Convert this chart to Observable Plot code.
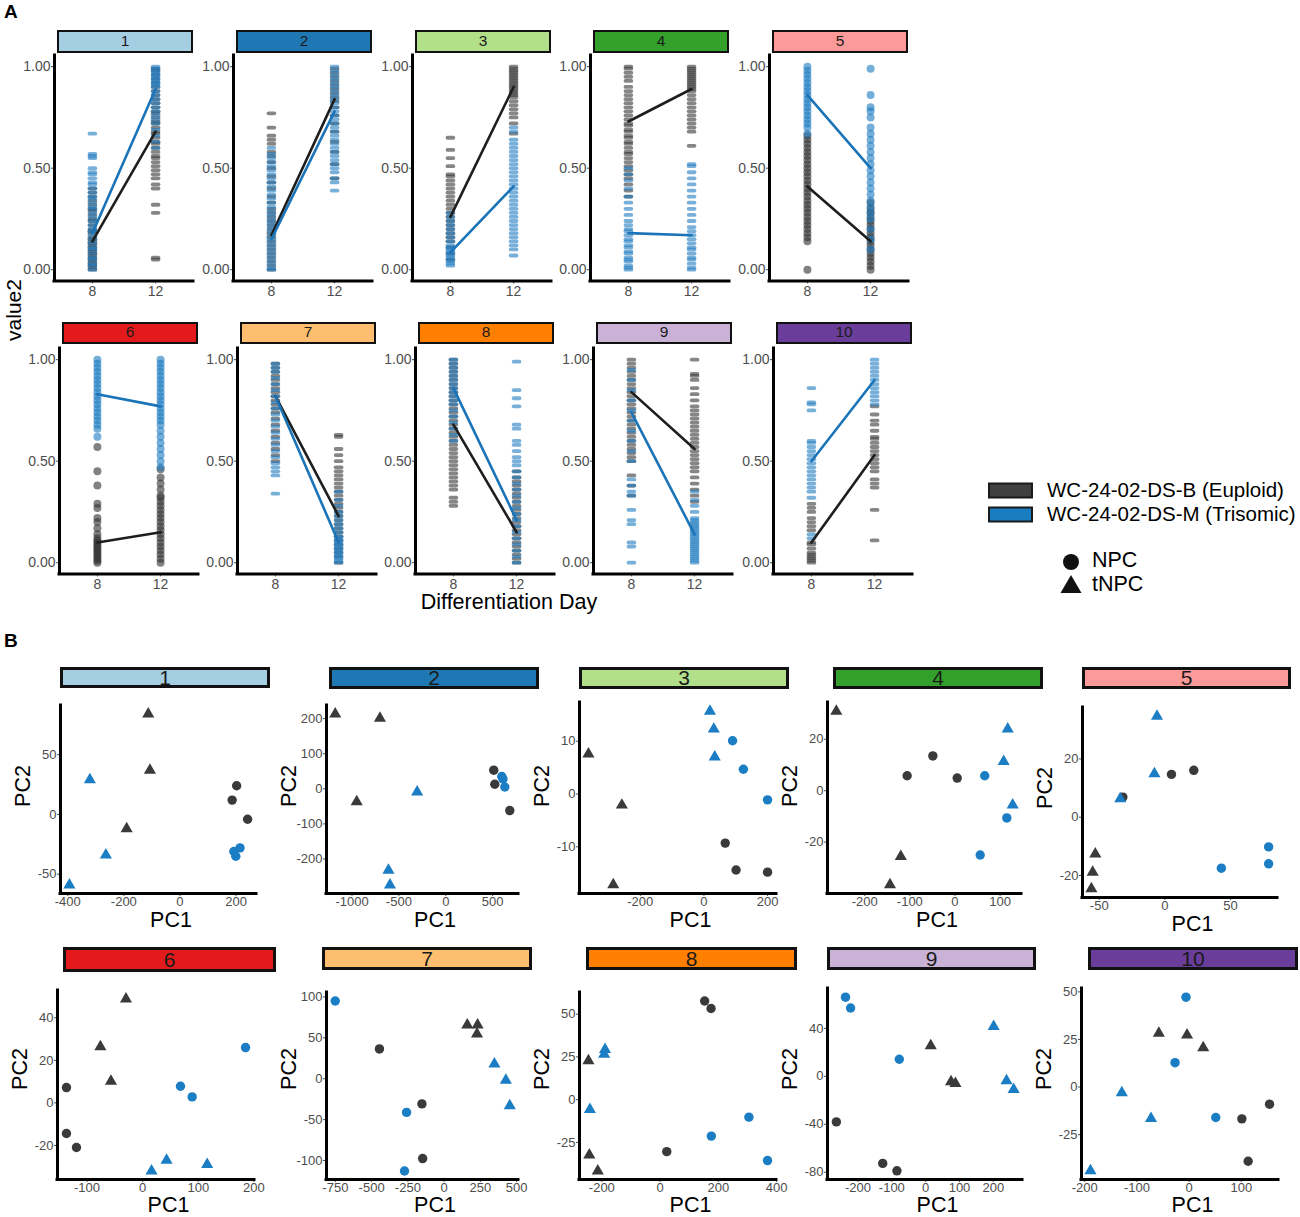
<!DOCTYPE html>
<html><head><meta charset="utf-8">
<script src="https://cdn.jsdelivr.net/npm/d3@7"></script>
<script src="https://cdn.jsdelivr.net/npm/@observablehq/plot@0.6"></script>
<style>
body{margin:0;background:#fff;font-family:"Liberation Sans",Arial,sans-serif;}
#root{position:relative;width:1300px;height:1217px;overflow:hidden;background:#fff;}
.strip{position:absolute;box-sizing:border-box;border-style:solid;border-color:#111;text-align:center;color:#1a1a1a;overflow:hidden;}
.lbl{position:absolute;white-space:nowrap;color:#000;line-height:1;}
</style></head><body><div id="root"></div>
<script>
// ================= DATA =================
const facetIds = [1,2,3,4,5,6,7,8,9,10];
const facetColors = ["#A6CEE3","#1F78B4","#B2DF8A","#33A02C","#FB9A99","#E31A1C","#FDBF6F","#FF7F00","#CAB2D6","#6A3D9A"];
const days = [8, 12];
const genotypes = ["WC-24-02-DS-B (Euploid)", "WC-24-02-DS-M (Trisomic)"];
const cellTypes = ["NPC", "tNPC"];

// Panel A: mean lines per facet
const meanEuploidD8   = [0.14,0.17,0.26,0.73,0.41,0.10,0.82,0.68,0.84,0.10];
const meanEuploidD12  = [0.68,0.84,0.90,0.89,0.14,0.15,0.23,0.15,0.56,0.53];
const meanTrisomicD8  = [0.18,0.15,0.085,0.18,0.86,0.83,0.82,0.86,0.74,0.50];
const meanTrisomicD12 = [0.89,0.78,0.41,0.17,0.50,0.77,0.10,0.21,0.14,0.90];

// Panel A: per-gene values (value2), facet / genotype / day
const c1EuD8  = [0.00,0.01,0.02,0.03,0.04,0.05,0.06,0.07,0.08,0.09,0.10,0.11,0.12,0.13,0.14,0.15,0.16,0.18,0.19,0.20,0.22,0.24,0.25,0.27,0.29,0.30,0.32,0.34,0.36,0.38,0.40];
const c1TrD8  = [0.00,0.02,0.03,0.05,0.06,0.08,0.10,0.11,0.13,0.15,0.17,0.19,0.20,0.22,0.24,0.26,0.28,0.30,0.31,0.33,0.35,0.36,0.38,0.40,0.42,0.43,0.45,0.47,0.48,0.50,0.55,0.56,0.57,0.67];
const c1EuD12 = [0.05,0.06,0.28,0.32,0.40,0.42,0.45,0.47,0.49,0.51,0.53,0.55,0.56,0.58,0.60,0.62,0.63,0.65,0.67,0.68,0.70,0.72,0.73,0.75,0.77,0.78,0.80,0.82,0.84,0.86,0.88,0.90,0.92,0.94,0.96,0.98,0.99];
const c1TrD12 = [0.60,0.63,0.66,0.69,0.72,0.74,0.76,0.78,0.80,0.82,0.84,0.86,0.88,0.90,0.91,0.92,0.93,0.94,0.95,0.96,0.97,0.98,0.99,1.00];

const c2EuD8  = [0.00,0.02,0.04,0.06,0.08,0.10,0.12,0.14,0.16,0.18,0.20,0.22,0.24,0.26,0.28,0.30,0.33,0.36,0.40,0.43,0.46,0.50,0.53,0.56,0.58,0.62,0.64,0.66,0.70,0.77];
const c2TrD8  = [0.00,0.01,0.03,0.05,0.07,0.09,0.11,0.13,0.15,0.17,0.19,0.21,0.23,0.25,0.27,0.29,0.31,0.33,0.35,0.37,0.39,0.41,0.43,0.45,0.47,0.49,0.51,0.53,0.55,0.57,0.60];
const c2EuD12 = [0.45,0.52,0.58,0.63,0.68,0.72,0.76,0.80,0.83,0.85,0.87,0.89,0.91,0.93,0.95,0.97,0.99];
const c2TrD12 = [0.39,0.43,0.45,0.48,0.50,0.52,0.54,0.56,0.58,0.60,0.62,0.64,0.66,0.68,0.70,0.72,0.74,0.76,0.78,0.80,0.82,0.84,0.86,0.88,0.90,0.92,0.94,0.96,0.98,1.00];

const c3EuD8  = [0.05,0.08,0.11,0.14,0.16,0.18,0.20,0.22,0.24,0.26,0.28,0.30,0.32,0.34,0.36,0.38,0.40,0.42,0.44,0.46,0.47,0.51,0.55,0.59,0.65];
const c3TrD8  = [0.02,0.03,0.04,0.05,0.06,0.07,0.08,0.09,0.10,0.11,0.12,0.14,0.16,0.18,0.20,0.22,0.24,0.26,0.28];
const c3EuD12 = [0.67,0.72,0.75,0.77,0.79,0.81,0.83,0.85,0.86,0.87,0.88,0.89,0.90,0.91,0.92,0.93,0.94,0.95,0.96,0.97,0.98,0.99,1.00];
const c3TrD12 = [0.07,0.10,0.12,0.14,0.16,0.18,0.20,0.22,0.24,0.26,0.28,0.30,0.32,0.34,0.36,0.38,0.40,0.42,0.44,0.46,0.48,0.50,0.52,0.54,0.56,0.58,0.60,0.62,0.64,0.68,0.70];

const c4EuD8  = [0.36,0.39,0.42,0.45,0.47,0.49,0.51,0.53,0.55,0.57,0.58,0.60,0.62,0.63,0.65,0.66,0.68,0.69,0.71,0.72,0.74,0.76,0.78,0.80,0.82,0.84,0.86,0.88,0.90,0.93,0.95,0.97,0.99,1.00];
const c4TrD8  = [0.00,0.01,0.02,0.04,0.05,0.06,0.08,0.09,0.11,0.12,0.14,0.15,0.17,0.19,0.20,0.22,0.24,0.27,0.30,0.33,0.36,0.40,0.44,0.47,0.50];
const c4EuD12 = [0.61,0.68,0.70,0.72,0.74,0.76,0.78,0.80,0.82,0.84,0.86,0.88,0.89,0.90,0.91,0.92,0.93,0.94,0.95,0.96,0.97,0.98,0.99,1.00];
const c4TrD12 = [0.00,0.01,0.03,0.05,0.06,0.08,0.10,0.11,0.13,0.15,0.17,0.19,0.21,0.24,0.27,0.30,0.33,0.36,0.39,0.42,0.45,0.48,0.51,0.52];

const c5EuD8  = [0.00,0.14,0.16,0.18,0.20,0.22,0.24,0.26,0.28,0.30,0.32,0.34,0.36,0.38,0.40,0.42,0.44,0.46,0.48,0.50,0.52,0.54,0.56,0.58,0.60,0.62,0.64,0.66];
const c5TrD8  = [0.67,0.70,0.72,0.74,0.76,0.78,0.80,0.82,0.84,0.86,0.88,0.90,0.92,0.94,0.96,0.98,1.00];
const c5EuD12 = [0.00,0.02,0.04,0.06,0.08,0.10,0.12,0.14,0.16,0.18,0.20,0.22,0.24,0.26,0.28,0.30,0.33];
const c5TrD12 = [0.10,0.15,0.20,0.25,0.28,0.31,0.34,0.37,0.40,0.43,0.46,0.49,0.52,0.55,0.58,0.61,0.64,0.67,0.70,0.75,0.78,0.80,0.86,0.99];

const c6EuD8  = [0.00,0.01,0.02,0.03,0.04,0.05,0.06,0.07,0.08,0.09,0.10,0.11,0.12,0.14,0.17,0.20,0.22,0.27,0.29,0.38,0.45,0.57];
const c6TrD8  = [0.62,0.66,0.68,0.70,0.72,0.74,0.76,0.78,0.80,0.82,0.84,0.86,0.88,0.90,0.92,0.94,0.96,0.98,1.00];
const c6EuD12 = [0.00,0.02,0.04,0.06,0.08,0.10,0.12,0.14,0.16,0.18,0.20,0.22,0.24,0.26,0.28,0.30,0.32,0.33,0.36,0.39,0.42,0.46];
const c6TrD12 = [0.47,0.50,0.53,0.56,0.59,0.62,0.65,0.68,0.70,0.72,0.74,0.76,0.78,0.80,0.82,0.84,0.86,0.88,0.90,0.92,0.94,0.96,0.98,1.00];

const c7EuD8  = [0.50,0.53,0.56,0.59,0.62,0.65,0.68,0.71,0.74,0.76,0.78,0.80,0.82,0.84,0.86,0.88,0.90,0.92,0.94,0.96,0.98];
const c7TrD8  = [0.34,0.43,0.45,0.47,0.49,0.52,0.55,0.58,0.61,0.64,0.67,0.70,0.73,0.76,0.79,0.82,0.85,0.88,0.91,0.94,0.96,0.98];
const c7EuD12 = [0.00,0.03,0.05,0.07,0.09,0.11,0.13,0.15,0.17,0.19,0.21,0.23,0.25,0.27,0.29,0.31,0.33,0.35,0.37,0.39,0.41,0.43,0.45,0.47,0.50,0.53,0.56,0.62,0.63];
const c7TrD12 = [0.00,0.01,0.02,0.03,0.04,0.05,0.06,0.07,0.08,0.09,0.10,0.11,0.12,0.13,0.15,0.17,0.19,0.21,0.23,0.25,0.28,0.31,0.35];

const c8EuD8  = [0.28,0.30,0.32,0.36,0.38,0.40,0.42,0.44,0.46,0.48,0.50,0.52,0.54,0.56,0.58,0.60,0.62,0.64,0.66,0.68,0.70,0.72,0.74,0.76,0.78,0.80,0.82,0.84,0.86,0.88,0.90,0.92,0.94,0.96,0.98,1.00];
const c8TrD8  = [0.60,0.63,0.66,0.69,0.72,0.75,0.78,0.80,0.82,0.84,0.86,0.88,0.90,0.92,0.94,0.96,0.98,1.00];
const c8EuD12 = [0.00,0.02,0.04,0.06,0.08,0.10,0.12,0.14,0.16,0.18,0.20,0.22,0.24,0.26,0.28,0.30,0.32,0.34,0.36,0.38,0.40,0.42,0.45];
const c8TrD12 = [0.00,0.03,0.06,0.09,0.12,0.15,0.18,0.21,0.24,0.27,0.30,0.33,0.36,0.39,0.42,0.45,0.48,0.50,0.52,0.55,0.58,0.60,0.66,0.68,0.77,0.81,0.85,0.99];

const c9EuD8  = [0.33,0.38,0.43,0.50,0.52,0.54,0.56,0.58,0.60,0.62,0.64,0.66,0.68,0.70,0.72,0.74,0.76,0.78,0.80,0.82,0.84,0.86,0.88,0.90,0.92,0.94,0.96,0.98,1.00];
const c9TrD8  = [0.00,0.08,0.10,0.19,0.21,0.26,0.33,0.35,0.38,0.41,0.50,0.55,0.60,0.65,0.70,0.75,0.80,0.85,0.90,0.95];
const c9EuD12 = [0.30,0.33,0.36,0.39,0.42,0.45,0.47,0.49,0.51,0.53,0.55,0.57,0.59,0.61,0.63,0.65,0.67,0.69,0.71,0.73,0.75,0.77,0.80,0.83,0.86,0.90,0.92,0.93,1.00];
const c9TrD12 = [0.00,0.01,0.02,0.03,0.04,0.05,0.06,0.07,0.08,0.09,0.10,0.11,0.12,0.13,0.14,0.15,0.16,0.17,0.18,0.19,0.20,0.21,0.22,0.25,0.28,0.31,0.35];

const c10EuD8  = [0.00,0.01,0.02,0.03,0.04,0.05,0.07,0.09,0.10,0.16,0.18,0.20,0.22,0.25,0.27,0.29];
const c10TrD8  = [0.12,0.14,0.32,0.35,0.37,0.39,0.41,0.43,0.45,0.47,0.49,0.51,0.53,0.55,0.57,0.59,0.60,0.75,0.78,0.79,0.86];
const c10EuD12 = [0.11,0.26,0.37,0.39,0.41,0.45,0.47,0.49,0.51,0.53,0.55,0.57,0.59,0.61,0.62,0.65,0.68,0.70,0.73,0.77];
const c10TrD12 = [0.78,0.80,0.82,0.84,0.86,0.88,0.90,0.92,0.94,0.96,0.98,1.00];

// Panel B: PCA scores [PC1, PC2, line (B = euploid, M = trisomic), cell type]
const pca1 = [[-113,84,"B","tNPC"],[-107,37,"B","tNPC"],[-190,-12,"B","tNPC"],[-321,29,"M","tNPC"],[-264,-34,"M","tNPC"],[-394,-59,"M","tNPC"],[202,24,"B","NPC"],[186,12,"B","NPC"],[241,-4,"B","NPC"],[192,-31,"M","NPC"],[214,-28,"M","NPC"],[199,-35,"M","NPC"]];
const pca2 = [[-1179,213,"B","tNPC"],[-702,201,"B","tNPC"],[-950,-37,"B","tNPC"],[-305,-9,"M","tNPC"],[-611,-232,"M","tNPC"],[-595,-274,"M","tNPC"],[512,53,"B","NPC"],[523,13,"B","NPC"],[683,-62,"B","NPC"],[598,35,"M","NPC"],[630,5,"M","NPC"],[610,28,"M","NPC"]];
const pca3 = [[19,15.7,"M","tNPC"],[31,12.3,"M","tNPC"],[34,7.0,"M","tNPC"],[90,10.1,"M","NPC"],[124,4.7,"M","NPC"],[200,-1.1,"M","NPC"],[-363,7.6,"B","tNPC"],[-258,-2.1,"B","tNPC"],[-285,-17.2,"B","tNPC"],[67,-9.3,"B","NPC"],[101,-14.4,"B","NPC"],[200,-14.8,"B","NPC"]];
const pca4 = [[-263,30.9,"B","tNPC"],[-120,-25.6,"B","tNPC"],[-144,-36.6,"B","tNPC"],[117,24,"M","tNPC"],[108,11.3,"M","tNPC"],[128,-5.6,"M","tNPC"],[-49,13.5,"B","NPC"],[-106,5.8,"B","NPC"],[5,4.9,"B","NPC"],[66,5.8,"M","NPC"],[115,-10.6,"M","NPC"],[56,-25,"M","NPC"]];
const pca5 = [[-6,34.7,"M","tNPC"],[-8,14.9,"M","tNPC"],[-34,6.3,"M","tNPC"],[5,14.7,"B","NPC"],[22,16.1,"B","NPC"],[-32,6.9,"B","NPC"],[79,-10.2,"M","NPC"],[79,-16,"M","NPC"],[43,-17.5,"M","NPC"],[-53,-12.6,"B","tNPC"],[-55,-18.9,"B","tNPC"],[-56,-24.6,"B","tNPC"]];
const pca6 = [[-30,48.8,"B","tNPC"],[-76,26.4,"B","tNPC"],[-57,10.2,"B","tNPC"],[-137,7.2,"B","NPC"],[-137,-14.4,"B","NPC"],[-119,-21,"B","NPC"],[185,26,"M","NPC"],[68,7.8,"M","NPC"],[89,2.8,"M","NPC"],[43,-27,"M","tNPC"],[16,-32,"M","tNPC"],[116,-29,"M","tNPC"]];
const pca7 = [[-751,95,"M","NPC"],[-259,-41.2,"M","NPC"],[-273,-112.8,"M","NPC"],[-446,36.4,"B","NPC"],[-153,-30.8,"B","NPC"],[-148,-97.6,"B","NPC"],[160,65.6,"B","tNPC"],[231,65.6,"B","tNPC"],[227,54.8,"B","tNPC"],[347,18,"M","tNPC"],[426,-2,"M","tNPC"],[453,-33,"M","tNPC"]];
const pca8 = [[153,57.7,"B","NPC"],[175,53.3,"B","NPC"],[23,-30.4,"B","NPC"],[-246,22.7,"B","tNPC"],[-243,-32.3,"B","tNPC"],[-214,-41.7,"B","tNPC"],[-189,29.4,"M","tNPC"],[-192,26.5,"M","tNPC"],[-241,-5.8,"M","tNPC"],[176,-21.3,"M","NPC"],[305,-10.2,"M","NPC"],[369,-35.6,"M","NPC"]];
const pca9 = [[-237,66,"M","NPC"],[-222,57,"M","NPC"],[-78,14.2,"M","NPC"],[15,25.4,"B","tNPC"],[75,-4.5,"B","tNPC"],[88,-5.9,"B","tNPC"],[201,41.6,"M","tNPC"],[239,-3.6,"M","tNPC"],[260,-10.9,"M","tNPC"],[-264,-38,"B","NPC"],[-127,-72.6,"B","NPC"],[-85,-78.8,"B","NPC"]];
const pca10 = [[-6,47.2,"M","NPC"],[-27,12.8,"M","NPC"],[51,-16,"M","NPC"],[-58,28.2,"B","tNPC"],[-4,27.3,"B","tNPC"],[27,20.7,"B","tNPC"],[-129,-3,"M","tNPC"],[-73,-16.5,"M","tNPC"],[-189,-44,"M","tNPC"],[101,-16.7,"B","NPC"],[154,-9,"B","NPC"],[113,-39,"B","NPC"]];

// PCA axis tick labels per facet
const pcaXTicks = [[-400,-200,0,200],[-1000,-500,0,500],[-200,0,200],[-200,-100,0,100],[-50,0,50],[-100,0,100,200],[-750,-500,-250,0,250,500],[-200,0,200,400],[-200,-100,0,100,200],[-200,-100,0,100]];
const pcaYTicks = [[-50,0,50],[-200,-100,0,100,200],[-10,0,10],[-20,0,20],[-20,0,20],[-20,0,20,40],[-100,-50,0,50,100],[-25,0,25,50],[-80,-40,0,40],[-25,0,25,50]];

// ================= TABLES BUILT FROM DATA =================
const stripSets = [
  [c1EuD8,c1EuD12,c1TrD8,c1TrD12],[c2EuD8,c2EuD12,c2TrD8,c2TrD12],[c3EuD8,c3EuD12,c3TrD8,c3TrD12],
  [c4EuD8,c4EuD12,c4TrD8,c4TrD12],[c5EuD8,c5EuD12,c5TrD8,c5TrD12],[c6EuD8,c6EuD12,c6TrD8,c6TrD12],
  [c7EuD8,c7EuD12,c7TrD8,c7TrD12],[c8EuD8,c8EuD12,c8TrD8,c8TrD12],[c9EuD8,c9EuD12,c9TrD8,c9TrD12],
  [c10EuD8,c10EuD12,c10TrD8,c10TrD12]
];
const pcaSets = [pca1,pca2,pca3,pca4,pca5,pca6,pca7,pca8,pca9,pca10];

// ================= STYLE / LAYOUT =================
const EU_PT = "#363636", TR_PT = "#1f7cc2";
const EU_LINE = "#1e1e1e", TR_LINE = "#1a74b7";
const EU_PCA = "#3a3a3a", TR_PCA = "#1b7dc3";
const FONT = "'Liberation Sans', Arial, sans-serif";
const TICK_COLOR = "#4d4d4d";
const roundFacets = new Set([5, 6]);
const root = document.getElementById("root");

const dashSymbol = {
  draw(ctx) {
    const w = 4.8, h = 1.9;
    ctx.moveTo(-w + h, -h);
    ctx.lineTo(w - h, -h);
    ctx.arc(w - h, 0, h, -Math.PI / 2, Math.PI / 2);
    ctx.lineTo(-w + h, h);
    ctx.arc(-w + h, 0, h, Math.PI / 2, 3 * Math.PI / 2);
    ctx.closePath();
  }
};

function addStrip(label, x0, x1, y0, y1, color, fs, bw) {
  const d = document.createElement("div");
  d.className = "strip";
  Object.assign(d.style, {left: x0 + "px", top: y0 + "px", width: (x1 - x0) + "px", height: (y1 - y0) + "px",
    background: color, borderWidth: bw + "px", fontSize: fs + "px", lineHeight: (y1 - y0 - 2 * bw) + "px"});
  d.textContent = label;
  root.appendChild(d);
}
function addLabel(str, cx, cy, fs, opts = {}) {
  const d = document.createElement("div");
  d.className = "lbl";
  d.textContent = str;
  d.style.fontSize = fs + "px";
  if (opts.lh) d.style.lineHeight = opts.lh;
  if (opts.bold) d.style.fontWeight = "bold";
  d.style.left = cx + "px"; d.style.top = cy + "px";
  if (opts.corner) d.style.transform = "none";
  else if (opts.left) d.style.transform = "translate(0,-50%)";
  else d.style.transform = "translate(-50%,-50%)" + (opts.rotate ? " rotate(-90deg)" : "");
  root.appendChild(d);
}
function placeSvg(svg, left, top) {
  svg.style.position = "absolute";
  svg.style.left = left + "px";
  svg.style.top = top + "px";
  root.appendChild(svg);
}

// ================= PANEL A =================
const A_ML = 40, A_MR = 6, A_MT = 6, A_MB = 26, A_W = 139;
const aRows = [
  {top: 54.8, bottom: 280.2, stripTop: 30, stripBottom: 53, lefts: [54, 233, 412, 590, 769]},
  {top: 347.8, bottom: 573.2, stripTop: 322, stripBottom: 344, lefts: [59, 237, 415, 593, 773]}
];
const X_DOM = [5.6, 14.4], Y_DOM = [-0.055, 1.055];

facetIds.forEach((id, i) => {
  const row = aRows[Math.floor(i / 5)];
  const left = row.lefts[i % 5];
  const H = row.bottom - row.top;
  const [eu8, eu12, tr8, tr12] = stripSets[i];
  const eu = [...eu8.map(v => ({day: days[0], v})), ...eu12.map(v => ({day: days[1], v}))];
  const tr = [...tr8.map(v => ({day: days[0], v})), ...tr12.map(v => ({day: days[1], v}))];
  const round = roundFacets.has(id);
  const sym = round ? "circle" : dashSymbol;
  const r = 4;
  const op = round ? 0.62 : 0.6;
  const svg = Plot.plot({
    width: A_W + A_ML + A_MR, height: H + A_MT + A_MB,
    marginLeft: A_ML, marginRight: A_MR, marginTop: A_MT, marginBottom: A_MB,
    style: {fontFamily: FONT, fontSize: "14px", color: TICK_COLOR, background: "none", overflow: "visible"},
    x: {domain: X_DOM},
    y: {domain: Y_DOM},
    marks: [
      Plot.axisX({ticks: days, tickFormat: d => String(d), label: null, tickSize: 3, tickPadding: 2, fontSize: 14, fill: TICK_COLOR}),
      Plot.axisY({ticks: [0, 0.5, 1], tickFormat: d => d.toFixed(2), label: null, tickSize: 3, tickPadding: 1, fontSize: 14, fill: TICK_COLOR}),
      Plot.dot(eu, {x: "day", y: "v", symbol: sym, r, fill: EU_PT, fillOpacity: op, stroke: "none"}),
      Plot.dot(tr, {x: "day", y: "v", symbol: sym, r, fill: TR_PT, fillOpacity: op, stroke: "none"}),
      Plot.line([{day: days[0], v: meanEuploidD8[i]}, {day: days[1], v: meanEuploidD12[i]}], {x: "day", y: "v", stroke: EU_LINE, strokeWidth: 2.6}),
      Plot.line([{day: days[0], v: meanTrisomicD8[i]}, {day: days[1], v: meanTrisomicD12[i]}], {x: "day", y: "v", stroke: TR_LINE, strokeWidth: 2.6}),
      Plot.ruleX([X_DOM[0]], {stroke: "#000", strokeWidth: 3, strokeLinecap: "square"}),
      Plot.ruleY([Y_DOM[0]], {stroke: "#000", strokeWidth: 3, strokeLinecap: "square"})
    ]
  });
  placeSvg(svg, left - A_ML, row.top - A_MT);
  addStrip(String(id), left + 3, left + A_W, row.stripTop, row.stripBottom, facetColors[i], 15.5, 2.6);
});

addLabel("A", 4, 2, 19, {bold: true, corner: true});
addLabel("value2", 13, 310, 21, {rotate: true});
addLabel("Differentiation Day", 509, 603, 21.5);

// Legend (panel A)
(function legend() {
  const ns = "http://www.w3.org/2000/svg";
  const svg = document.createElementNS(ns, "svg");
  svg.setAttribute("width", 120); svg.setAttribute("height", 130);
  svg.style.position = "absolute"; svg.style.left = "980px"; svg.style.top = "475px";
  const add = (tag, attrs) => { const e = document.createElementNS(ns, tag); for (const k in attrs) e.setAttribute(k, attrs[k]); svg.appendChild(e); };
  add("rect", {x: 9, y: 8.5, width: 43, height: 14, fill: "#404040", stroke: "#1a1a1a", "stroke-width": 2});
  add("rect", {x: 9, y: 32.5, width: 43, height: 14, fill: "#1a7dc1", stroke: "#1a1a1a", "stroke-width": 2});
  add("circle", {cx: 91, cy: 87, r: 8, fill: "#111"});
  add("path", {d: "M91,100 L101.5,118 L80.5,118 Z", fill: "#111"});
  root.appendChild(svg);
  addLabel(genotypes[0], 1047, 490, 20.5, {left: true});
  addLabel(genotypes[1], 1047, 514, 20.5, {left: true});
  addLabel(cellTypes[0], 1092, 561, 21.5, {left: true});
  addLabel(cellTypes[1], 1092, 585, 21.5, {left: true});
})();

// ================= PANEL B =================
const bFrames = [
  {l: 60, r: 256, t: 705, b: 893, st: 667, sb: 688, sl: 60, sr: 270},
  {l: 326, r: 518, t: 705, b: 893, st: 667, sb: 689, sl: 329, sr: 539},
  {l: 579, r: 776, t: 702, b: 893, st: 667, sb: 689, sl: 579, sr: 789},
  {l: 827, r: 1021, t: 702, b: 893, st: 667, sb: 689, sl: 833, sr: 1043},
  {l: 1082, r: 1277, t: 707, b: 897, st: 667, sb: 689, sl: 1082, sr: 1291},
  {l: 57, r: 254, t: 990, b: 1179, st: 947, sb: 972, sl: 63, sr: 276},
  {l: 326, r: 518, t: 992, b: 1179, st: 947, sb: 970, sl: 322, sr: 532},
  {l: 579, r: 776, t: 992, b: 1179, st: 947, sb: 970, sl: 586, sr: 797},
  {l: 827, r: 1022, t: 988, b: 1179, st: 947, sb: 970, sl: 827, sr: 1036},
  {l: 1081, r: 1278, t: 988, b: 1179, st: 947, sb: 970, sl: 1088, sr: 1298}
];
const B_ML = 46, B_MR = 10, B_MT = 10, B_MB = 24;
function expand(ext) { const d = (ext[1] - ext[0]) * 0.05; return [ext[0] - d, ext[1] + d]; }

facetIds.forEach((id, i) => {
  const f = bFrames[i];
  const rows = pcaSets[i].map(([pc1, pc2, line, cell]) => ({pc1, pc2, line, cell}));
  const xd = expand(d3.extent(rows, d => d.pc1));
  const yd = expand(d3.extent(rows, d => d.pc2));
  const W = f.r - f.l, H = f.b - f.t;
  const grp = (line, cell) => rows.filter(d => d.line === line && d.cell === cell);
  const svg = Plot.plot({
    width: W + B_ML + B_MR, height: H + B_MT + B_MB,
    marginLeft: B_ML, marginRight: B_MR, marginTop: B_MT, marginBottom: B_MB,
    style: {fontFamily: FONT, fontSize: "13px", color: TICK_COLOR, background: "none", overflow: "visible"},
    x: {domain: xd},
    y: {domain: yd},
    marks: [
      Plot.axisX({ticks: pcaXTicks[i], tickFormat: d => String(d), label: null, tickSize: 3, tickPadding: 0.5, fontSize: 13, fill: TICK_COLOR}),
      Plot.axisY({ticks: pcaYTicks[i], tickFormat: d => String(d), label: null, tickSize: 3, tickPadding: 1, fontSize: 13, fill: TICK_COLOR}),
      Plot.dot(grp("B", "NPC"), {x: "pc1", y: "pc2", symbol: "circle", r: 4.7, fill: EU_PCA, stroke: "none"}),
      Plot.dot(grp("B", "tNPC"), {x: "pc1", y: "pc2", symbol: "triangle", r: 4.5, fill: EU_PCA, stroke: "none"}),
      Plot.dot(grp("M", "NPC"), {x: "pc1", y: "pc2", symbol: "circle", r: 4.7, fill: TR_PCA, stroke: "none"}),
      Plot.dot(grp("M", "tNPC"), {x: "pc1", y: "pc2", symbol: "triangle", r: 4.5, fill: TR_PCA, stroke: "none"}),
      Plot.ruleX([xd[0]], {stroke: "#000", strokeWidth: 3, strokeLinecap: "square"}),
      Plot.ruleY([yd[0]], {stroke: "#000", strokeWidth: 3, strokeLinecap: "square"})
    ]
  });
  placeSvg(svg, f.l - B_ML, f.t - B_MT);
  addStrip(String(id), f.sl, f.sr, f.st, f.sb, facetColors[i], 21, 3);
  addLabel("PC1", (f.l + f.r) / 2 + 13, Math.min(f.b + 27.5, 1205.5), 21.5, {lh: 0.8});
  addLabel("PC2", f.l - 36, (f.st + f.b) / 2 + 6, 21.5, {rotate: true});
});

addLabel("B", 4, 631, 19, {bold: true, corner: true});
</script></body></html>
